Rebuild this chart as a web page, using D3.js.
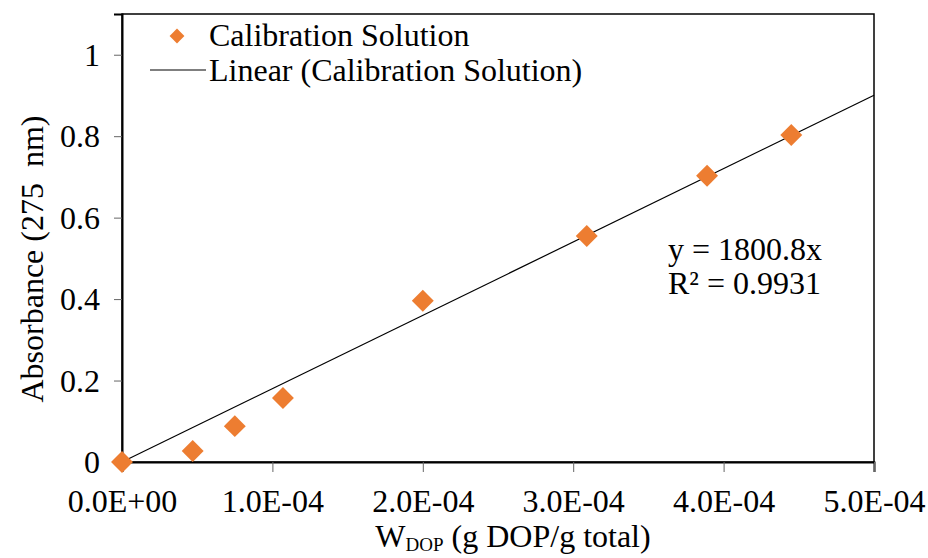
<!DOCTYPE html>
<html>
<head>
<meta charset="utf-8">
<script src="https://cdn.jsdelivr.net/npm/d3@7"></script>
<style>
  body { margin: 0; background: #fff; }
  svg text { font-family: "Liberation Serif", "Times New Roman", Times, "Nimbus Roman", "DejaVu Serif", serif; fill: #000; }
</style>
</head>
<body>
<svg id="chart" width="928" height="558"></svg>
<script>
// calibration data
var wDop = [0, 0.47e-4, 0.75e-4, 1.07e-4, 2.0e-4, 3.09e-4, 3.89e-4, 4.45e-4];
var absorbance = [0, 0.027, 0.088, 0.157, 0.396, 0.555, 0.703, 0.803];
var slope = 1800.8;
var xTicks = [0, 1e-4, 2e-4, 3e-4, 4e-4, 5e-4];
var yTicks = [0, 0.2, 0.4, 0.6, 0.8, 1];

const margin = { top: 14, right: 54, bottom: 96, left: 122 };
const width = 928, height = 558;
const serif = '"Liberation Serif", "Times New Roman", Times, "Nimbus Roman", "DejaVu Serif", serif';

var svg = d3.select("#chart");

var x = d3.scaleLinear().domain([0, 5e-4]).range([margin.left, width - margin.right]);
var y = d3.scaleLinear().domain([0, 1.1]).range([height - margin.bottom, margin.top]);

// frame
svg.append("rect")
    .attr("x", x(0)).attr("y", y(1.1))
    .attr("width", x(5e-4) - x(0)).attr("height", y(0) - y(1.1))
    .attr("fill", "none").attr("stroke", "#000").attr("stroke-width", 1.5);

var xAxis = d3.axisBottom(x)
    .tickValues(xTicks)
    .tickSize(10)
    .tickFormat(d => d.toExponential(1).toUpperCase().replace(/E([+-])(\d)$/, "E$10$2"));

svg.append("g")
    .attr("transform", "translate(0," + y(0) + ")")
    .call(xAxis)
    .attr("font-family", serif)
    .call(g => g.select(".domain").attr("stroke-width", 2))
    .call(g => g.selectAll(".tick line").attr("stroke", "#666"))
    .call(g => g.selectAll(".tick text")
        .attr("dy", 0).attr("y", 50)
        .style("font-size", "32px"));

var yAxis = d3.axisLeft(y)
    .tickValues(yTicks)
    .tickSize(8)
    .tickFormat(d3.format("~g"));

svg.append("g")
    .attr("transform", "translate(" + x(0) + ",0)")
    .call(yAxis)
    .attr("font-family", serif)
    .call(g => g.select(".domain").attr("stroke-width", 2))
    .call(g => g.selectAll(".tick line").attr("stroke", "#666"))
    .call(g => g.selectAll(".tick text")
        .attr("x", -22).attr("dy", "0.33em")
        .style("font-size", "32px"));

// trendline
svg.append("line")
    .attr("x1", x(0)).attr("y1", y(0))
    .attr("x2", x(5e-4)).attr("y2", y(slope * 5e-4))
    .attr("stroke", "#000").attr("stroke-width", 1.2);

// points
var diamond = d3.symbol().type(d3.symbolSquare).size(240);
svg.append("g")
    .selectAll("path")
    .data(wDop.map((d, i) => [d, absorbance[i]]))
    .enter()
    .append("path")
    .attr("d", diamond)
    .attr("transform", d => "translate(" + x(d[0]) + "," + y(d[1]) + ") rotate(45)")
    .attr("fill", "#ED7D31");

// equation
svg.append("text").attr("x", 668).attr("y", 260)
    .style("font-size", "32px").text("y = 1800.8x");
svg.append("text").attr("x", 668).attr("y", 294)
    .style("font-size", "32px").text("R² = 0.9931");

// legend
svg.append("path")
    .attr("d", d3.symbol().type(d3.symbolSquare).size(110))
    .attr("transform", "translate(177,36) rotate(45)")
    .attr("fill", "#ED7D31");
svg.append("text").attr("x", 209).attr("y", 46)
    .style("font-size", "32px").text("Calibration Solution");
svg.append("line")
    .attr("x1", 150).attr("x2", 206).attr("y1", 70).attr("y2", 70)
    .attr("stroke", "#000").attr("stroke-width", 1.2);
svg.append("text").attr("x", 209).attr("y", 81)
    .style("font-size", "32px").text("Linear (Calibration Solution)");

// axis titles
svg.append("text")
    .attr("transform", "translate(43,259) rotate(-90)")
    .attr("text-anchor", "middle")
    .style("font-size", "32px")
    .style("white-space", "pre")
    .text("Absorbance (275  nm)");

var xt = svg.append("text")
    .attr("x", 513).attr("y", 547)
    .attr("text-anchor", "middle")
    .style("font-size", "32px");
xt.append("tspan").text("W");
xt.append("tspan").attr("dy", 4).style("font-size", "19px").text("DOP");
xt.append("tspan").attr("dy", -4).text(" (g DOP/g total)");
</script>
</body>
</html>
